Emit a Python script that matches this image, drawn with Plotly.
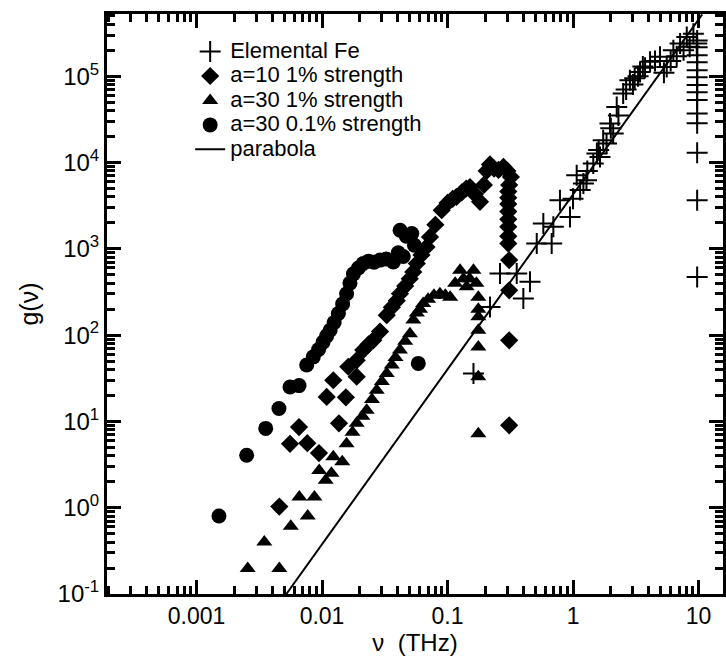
import plotly.graph_objects as go

# ---------------- data ----------------
fe_nu = [0.161, 0.218, 0.262, 0.356, 0.402, 0.454, 0.514, 0.58, 0.676, 0.697,
         0.787, 0.946, 1.0, 1.07, 1.14, 1.21, 1.28, 1.3, 1.45, 1.55, 1.6, 1.64,
         1.74, 1.85, 1.97, 2.0, 2.09, 2.23, 2.3, 2.51, 2.65, 2.84, 3.0, 3.1, 3.3,
         3.42, 3.6, 3.75, 4.11, 4.5, 4.93, 5.3, 5.58, 6.0, 6.3, 6.7, 7.13, 7.6,
         8.06, 8.5, 9.1, 9.68,
         9.75, 9.75, 9.75, 9.75, 9.75, 9.75, 9.75, 9.75, 9.75, 9.75, 9.75,
         9.75, 9.75, 9.75]
fe_g = [36, 212, 517, 517, 266, 415, 1150, 1960, 1150, 1800,
        3660, 2340, 3800, 7130, 4800, 5700, 6240, 8000, 9730, 12700, 14000, 11600,
        18100, 16600, 28300, 25000, 21700, 44000, 35000, 63000, 70000, 90000, 80000, 95000, 100000,
        112000, 130000, 125000, 147000, 150000, 168000, 110000, 128000, 150000, 200000, 170000, 240000, 200000,
        285000, 220000, 310000, 240000,
        260000, 217000, 175000, 145000, 117000, 97000, 79000, 65000, 53000, 37000, 28500,
        13000, 3660, 470]

a10_nu = [0.00457, 0.00556, 0.00656, 0.00764, 0.00946, 0.0109, 0.0123, 0.01365,
          0.0155, 0.0162, 0.0189, 0.0189, 0.0213, 0.0235, 0.0256, 0.029, 0.0328,
          0.036, 0.0394, 0.0418, 0.046, 0.05, 0.0534, 0.0569, 0.062, 0.068,
          0.0725, 0.08, 0.0899, 0.1, 0.11, 0.118, 0.13, 0.141, 0.151, 0.165,
          0.1815, 0.195, 0.205, 0.218, 0.235, 0.255, 0.279, 0.3, 0.32,
          0.31, 0.305, 0.305, 0.305, 0.305, 0.305, 0.305, 0.305, 0.305,
          0.31, 0.31, 0.31, 0.31]
a10_g = [1.03, 5.5, 8.6, 5.6, 4.3, 19.2, 30, 9.5,
         19, 43, 33, 51, 67, 78, 87, 110, 170,
         210, 250, 302, 370, 450, 540, 676, 850, 1050,
         1370, 1900, 2800, 3400, 3800, 4000, 4500, 5000, 5200, 4300,
         3500, 5500, 8000, 9500, 8500, 8200, 8900, 8000, 6800,
         5500, 4600, 3900, 3300, 2700, 2200, 1800, 1400, 1150,
         740, 330, 87, 9.0]

a30s_nu = [0.00256, 0.00457, 0.00347, 0.00564, 0.0066, 0.0077, 0.0087, 0.0095,
           0.0107, 0.0119, 0.0123, 0.0145, 0.0157, 0.0175, 0.0189, 0.021, 0.0227,
           0.025, 0.0273, 0.030, 0.0328, 0.036, 0.0385, 0.0418, 0.046, 0.0502,
           0.0534, 0.057, 0.0604, 0.064, 0.07, 0.078, 0.087, 0.096, 0.105, 0.115,
           0.126, 0.134, 0.142, 0.15, 0.161, 0.17, 0.176, 0.176, 0.176, 0.176,
           0.176, 0.176, 0.176]
a30s_g = [0.197, 0.197, 0.40, 0.61, 1.33, 0.80, 1.33, 2.7,
          2.08, 2.5, 3.9, 3.4, 5.5, 7.5, 9.5, 11.5, 13.5,
          18, 23, 29, 36, 45, 55, 67, 85, 104,
          150, 180, 200, 232, 260, 290, 302, 290, 275, 400,
          565, 450, 363, 450, 565, 400, 275, 200, 163, 114,
          73, 33, 7.2]

a30w_nu = [0.00151, 0.00251, 0.00356, 0.00454, 0.00556, 0.00656, 0.00755, 0.00853,
           0.0094, 0.0102, 0.0109, 0.0116, 0.0125, 0.0135, 0.0146, 0.0157, 0.0167,
           0.0178, 0.0195, 0.0213, 0.0235, 0.026, 0.029, 0.0325, 0.037, 0.0405,
           0.0444, 0.0419, 0.047, 0.0519, 0.0545, 0.0585]
a30w_g = [0.80, 4.06, 8.3, 14.1, 25, 26, 45, 56,
          68, 83, 98, 114, 140, 178, 230, 302, 400,
          513, 600, 675, 720, 700, 740, 760, 705, 900,
          815, 1640, 1400, 1500, 1100, 47]

para_nu = [0.0052, 10.7]
para_g = [0.1, 5.2e5]

series_names = ["Elemental Fe", "a=10 1% strength", "a=30 1% strength",
                "a=30 0.1% strength", "parabola"]

x_tick_vals = [0.001, 0.01, 0.1, 1, 10]
x_tick_text = ["0.001", "0.01", "0.1", "1", "10"]
y_tick_vals = [0.1, 1, 10, 100, 1e3, 1e4, 1e5]
y_tick_text = ["10<sup>-1</sup>", "10<sup>0</sup>", "10<sup>1</sup>", "10<sup>2</sup>",
               "10<sup>3</sup>", "10<sup>4</sup>", "10<sup>5</sup>"]

# ---------------- figure ----------------
FONT = "Liberation Sans, Arial, Helvetica, sans-serif"
XR = [-3.713, 1.195]
YR = [-1, 5.721]


def lg(name):
    return '<span style="font-size:22px">' + name + '</span>'


fig = go.Figure()
fig.add_trace(go.Scatter(x=fe_nu, y=fe_g, mode="markers", name=lg(series_names[0]),
                         marker=dict(symbol="cross-thin", size=15, color="black",
                                     line=dict(color="black", width=2))))
fig.add_trace(go.Scatter(x=a10_nu, y=a10_g, mode="markers", name=lg(series_names[1]),
                         marker=dict(symbol="diamond", size=14, color="black")))
fig.add_trace(go.Scatter(x=a30s_nu, y=a30s_g, mode="markers", name=lg(series_names[2]),
                         marker=dict(symbol="triangle-up", size=14, color="black")))
fig.add_trace(go.Scatter(x=a30w_nu, y=a30w_g, mode="markers", name=lg(series_names[3]),
                         marker=dict(symbol="circle", size=15, color="black")))
fig.add_trace(go.Scatter(x=para_nu, y=para_g, mode="lines", name=lg(series_names[4]),
                         line=dict(color="black", width=2)))

fig.update_layout(
    template="none",
    xaxis=dict(type="log", range=XR, showgrid=False, zeroline=False,
               tickmode="array", tickvals=x_tick_vals, ticktext=x_tick_text,
               ticks="inside", ticklen=14, tickwidth=3, tickcolor="#000000",
               minor=dict(ticks="inside", ticklen=8, tickwidth=2.5, tickcolor="#000000",
                          dtick="D1", showgrid=False),
               showline=True, linecolor="black", linewidth=2.5, mirror="ticks",
               tickfont=dict(family=FONT, size=23, color="black"),
               title=dict(text="ν  (THz)", font=dict(family=FONT, size=24, color="black"),
                          standoff=6)),
    yaxis=dict(type="log", range=YR, showgrid=False, zeroline=False,
               tickmode="array", tickvals=y_tick_vals, ticktext=y_tick_text,
               ticks="inside", ticklen=14, tickwidth=3, tickcolor="#000000",
               minor=dict(ticks="inside", ticklen=8, tickwidth=2.5, tickcolor="#000000",
                          dtick="D1", showgrid=False),
               showline=True, linecolor="black", linewidth=3, mirror="ticks",
               tickfont=dict(family=FONT, size=24, color="black"),
               title=dict(text="g(ν)", font=dict(family=FONT, size=25, color="black"),
                          standoff=12)),
)

fig.update_layout(width=726, height=657,
                  margin=dict(l=107, r=3, t=14, b=63),
                  paper_bgcolor="white", plot_bgcolor="white",
                  font=dict(family=FONT, color="black"),
                  showlegend=True,
                  legend=dict(x=0.135, y=0.965, xanchor="left", yanchor="top",
                              bgcolor="rgba(0,0,0,0)", borderwidth=0,
                              font=dict(family=FONT, size=16.5, color="black"),
                              tracegroupgap=0, itemwidth=30))

fig.write_html("out.html")
